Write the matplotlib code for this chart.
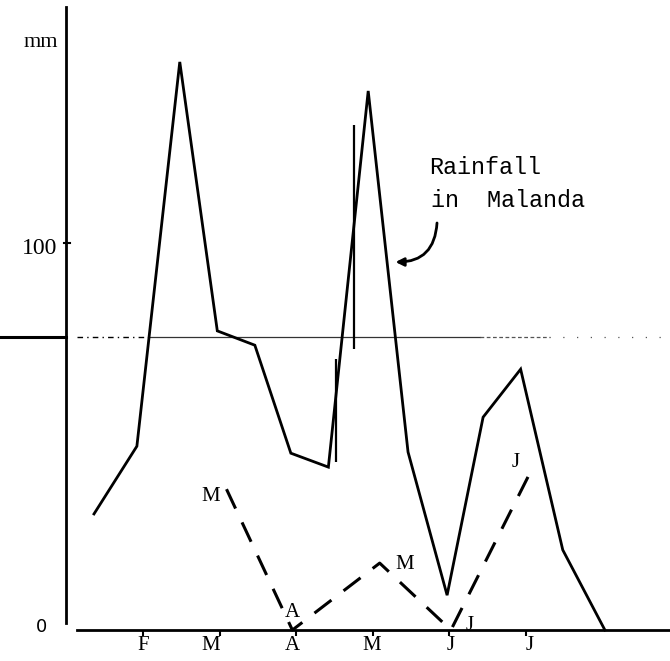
import matplotlib
matplotlib.use("Agg")
import matplotlib.pyplot as plt

# Rainfall in Malanda (mm); x = month number (Jan = 1)
rain_x = [1.36, 1.92, 2.48, 2.97, 3.46, 3.93, 4.42, 4.94, 5.46, 5.97, 6.44, 6.93, 7.48, 8.03]
rain_mm = [30.0, 47.5, 146.8, 77.3, 73.6, 45.7, 42.1, 139.3, 46.0, 9.0, 55.0, 67.4, 20.7, 0.0]

# second (dashed) series with its letter labels
dash_x = [3.09, 3.95, 5.09, 6.02, 7.07]
dash_mm = [36.4, 0.0, 17.3, 0.0, 41.3]
dash_labels = ["M", "A", "M", "J", "J"]
dash_label_x = [2.88, 3.95, 5.41, 6.27, 6.87]
dash_label_y = [34.4, 4.6, 17.0, 1.3, 43.2]

# month axis
month_ticks = [2, 3, 4, 5, 6, 7]
month_labels = ["F", "M", "A", "M", "J", "J"]
month_label_x = [2.0, 2.88, 3.95, 4.98, 6.02, 7.05]

mean_mm = 75.7

# stray vertical strokes on the scan
stroke_x = [4.52, 4.76]
stroke_lo = [43.4, 72.6]
stroke_hi = [70.0, 130.5]

fig = plt.figure(figsize=(6.7, 6.61), dpi=100)
ax = fig.add_axes([0, 0, 1, 1])
ax.set_xlim(0.133, 8.88)
ax.set_ylim(-8.0, 162.8)
ax.axis("off")

ink = "black"
mono = ["Liberation Mono", "DejaVu Sans Mono"]
serif = ["Liberation Serif", "DejaVu Serif"]

# axes drawn by hand, like the original
ax.plot([1.0, 1.0], [1.8, 161.0], color=ink, lw=2.0)
ax.plot([1.14, 8.88], [0, 0], color=ink, lw=2.0)
ax.vlines(month_ticks, -1.5, 0, color=ink, lw=1.5)
for xl, lab in zip(month_label_x, month_labels):
    ax.text(xl, -4.0, lab, family=serif, fontsize=15, ha="center", va="center", color=ink)

ax.text(0.668, 151.7, "mm", family=serif, fontsize=16, ha="center", va="center", color=ink)
ax.text(0.88, 98.6, "100", family=serif, fontsize=17, ha="right", va="center", color=ink)
ax.text(0.68, 0.8, "0", family=["DejaVu Sans"], fontsize=13, ha="center", va="center", color=ink)
ax.plot([0.97, 1.05], [100, 100], color=ink, lw=1.5)

# mean line: heavy stub in the margin, broken start, solid middle, dotted tail
ax.plot([0.133, 0.99], [mean_mm, mean_mm], color=ink, lw=2.2, clip_on=False)
ax.plot([1.14, 2.07], [mean_mm, mean_mm], color=ink, lw=1.0, dashes=(4, 3, 1, 3))
ax.plot([2.07, 6.40], [mean_mm, mean_mm], color="#333333", lw=0.9)
ax.plot([6.40, 7.30], [mean_mm, mean_mm], color="#555555", lw=0.9, dashes=(3, 2))
ax.plot([7.30, 8.88], [mean_mm, mean_mm], color="#555555", lw=0.9, dashes=(1, 10))

ax.vlines(stroke_x, stroke_lo, stroke_hi, color=ink, lw=1.6)

ax.plot(rain_x, rain_mm, color=ink, lw=2.0, solid_joinstyle="miter")
ax.plot(dash_x, dash_mm, color=ink, lw=2.2, dashes=(7, 5))
for xl, yl, lab in zip(dash_label_x, dash_label_y, dash_labels):
    ax.text(xl, yl, lab, family=serif, fontsize=15, ha="center", va="center", color=ink)

ax.text(5.73, 119.6, "Rainfall", family=mono, fontsize=16.8, ha="left", va="center", color=ink)
ax.text(5.76, 111.1, "in  Malanda", family=mono, fontsize=16.8, ha="left", va="center", color=ink)
ax.annotate("", xy=(5.26, 95.1), xytext=(5.84, 105.9),
            arrowprops=dict(arrowstyle="-|>", connectionstyle="arc3,rad=-0.5",
                            color=ink, lw=2.0, mutation_scale=12))

fig.savefig("out.png", dpi=100)
